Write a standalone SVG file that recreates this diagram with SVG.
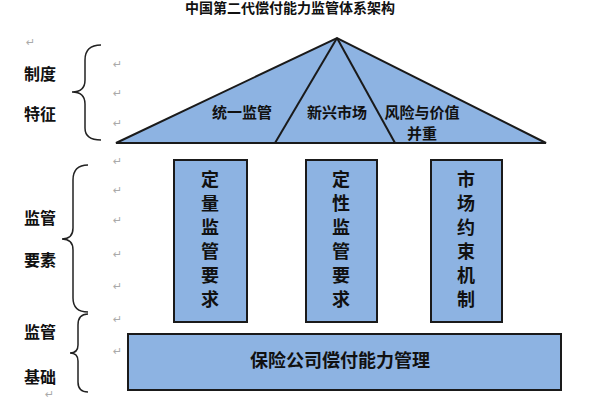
<svg xmlns="http://www.w3.org/2000/svg" width="600" height="400" viewBox="0 0 600 400">
<style>
.b{fill:#8db3e2;stroke:#1a1a1a;stroke-width:2}
.t{font-family:"Noto Sans CJK SC","Liberation Sans",sans-serif;font-weight:bold;fill:#111;text-anchor:middle}
.c{font-size:18px}
.m{font-family:"DejaVu Sans",sans-serif;font-size:11px;fill:#aaa}
.br{fill:none;stroke:#222;stroke-width:1.5}
</style>
<rect width="600" height="400" fill="#fff"/>
<text class="t" x="290" y="13" font-size="14">中国第二代偿付能力监管体系架构</text>
<g id="roof">
<polygon class="b" points="116,143 337,38 546,143"/>
<line x1="337" y1="38" x2="275" y2="143" stroke="#1a1a1a" stroke-width="2"/>
<line x1="337" y1="38" x2="395" y2="143" stroke="#1a1a1a" stroke-width="2"/>
<text class="t" x="242" y="118" font-size="15">统一监管</text>
<text class="t" x="337" y="118" font-size="15">新兴市场</text>
<text class="t" x="422" y="118" font-size="15">风险与价值</text>
<text class="t" x="422" y="139" font-size="15">并重</text>
</g>
<g id="p1"><rect class="b" x="174" y="160" width="73" height="162"/>
<text class="t c" x="210" y="186">定</text><text class="t c" x="210" y="210">量</text><text class="t c" x="210" y="234">监</text><text class="t c" x="210" y="258">管</text><text class="t c" x="210" y="282">要</text><text class="t c" x="210" y="306">求</text></g>
<g id="p2"><rect class="b" x="306" y="160" width="71" height="162"/>
<text class="t c" x="341" y="186">定</text><text class="t c" x="341" y="210">性</text><text class="t c" x="341" y="234">监</text><text class="t c" x="341" y="258">管</text><text class="t c" x="341" y="282">要</text><text class="t c" x="341" y="306">求</text></g>
<g id="p3"><rect class="b" x="431" y="160" width="71" height="162"/>
<text class="t c" x="466" y="186">市</text><text class="t c" x="466" y="210">场</text><text class="t c" x="466" y="234">约</text><text class="t c" x="466" y="258">束</text><text class="t c" x="466" y="282">机</text><text class="t c" x="466" y="306">制</text></g>
<g id="base"><rect class="b" x="128" y="334" width="433" height="56"/>
<text class="t" x="340" y="367" font-size="18">保险公司偿付能力管理</text></g>
<g id="labels">
<text class="t" x="40" y="80" font-size="16">制度</text>
<text class="t" x="40" y="120" font-size="16">特征</text>
<text class="t" x="40" y="224" font-size="16">监管</text>
<text class="t" x="40" y="266" font-size="16">要素</text>
<text class="t" x="40" y="338" font-size="16">监管</text>
<text class="t" x="40" y="383" font-size="16">基础</text>
</g>
<g id="connectors">
<path class="br" d="M101,45 Q85,45 85,60 L85,80 Q85,92 72,92 Q85,92 85,104 L85,128 Q85,140 101,140"/>
<path class="br" d="M88,165 Q73,165 73,180 L73,228 Q73,239 62,239 Q73,239 73,250 L73,298 Q73,312 88,312"/>
<path class="br" d="M88,314 Q78,314 78,325 L78,345 Q78,353 70,353 Q78,353 78,361 L78,382 Q78,392 88,392"/>
</g>
<g class="m">
<text x="26" y="46">↵</text><text x="113" y="68">↵</text><text x="113" y="97">↵</text><text x="113" y="127">↵</text>
<text x="113" y="165">↵</text><text x="113" y="194">↵</text><text x="113" y="224">↵</text><text x="113" y="258">↵</text><text x="113" y="290">↵</text><text x="113" y="323">↵</text><text x="113" y="355">↵</text><text x="45" y="398">↵</text>
</g>
</svg>
